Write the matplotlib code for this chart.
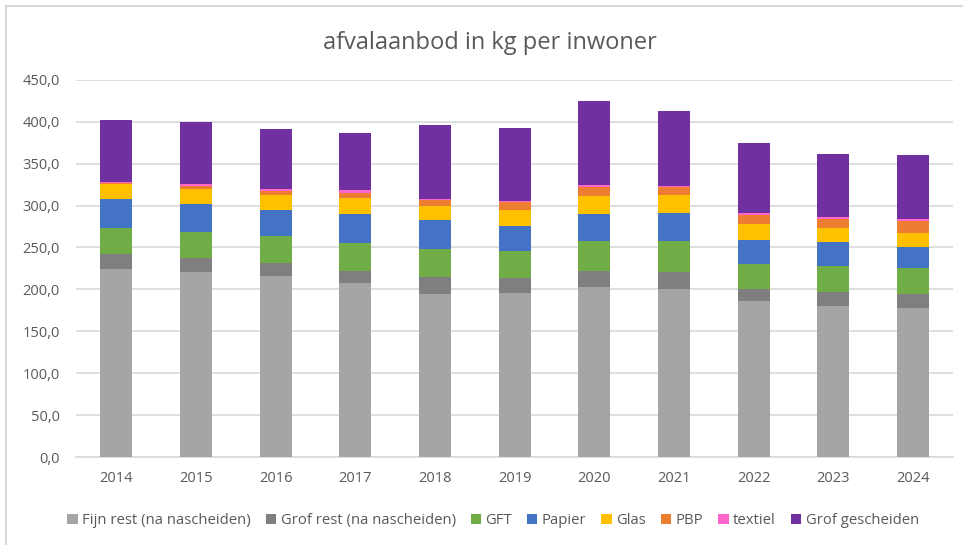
import numpy as np
import matplotlib
matplotlib.use("Agg")
import matplotlib.pyplot as plt
from matplotlib.patches import Rectangle

# Data (kg per inwoner)
years = ['2014', '2015', '2016', '2017', '2018', '2019', '2020', '2021', '2022', '2023', '2024']
fijn_rest = [224.0, 220.8, 216.1, 208.1, 195.0, 196.2, 203.0, 200.2, 186.0, 180.0, 178.0]
grof_rest = [18.3, 16.7, 15.4, 13.6, 20.2, 17.5, 18.7, 20.3, 14.2, 17.0, 17.0]
gft = [31.3, 31.3, 32.2, 34.0, 33.4, 31.8, 35.7, 36.9, 30.5, 31.3, 30.2]
papier = [33.8, 33.0, 31.3, 34.5, 33.8, 30.5, 32.8, 33.2, 28.2, 28.2, 25.8]
glas = [18.2, 18.2, 17.5, 19.1, 17.0, 19.0, 21.1, 22.3, 19.1, 16.7, 16.6]
pbp = [1.0, 3.0, 5.0, 5.9, 6.8, 9.2, 10.7, 8.7, 11.0, 10.7, 13.6]
textiel = [1.5, 2.2, 2.0, 3.3, 1.9, 1.2, 2.0, 2.0, 2.4, 2.1, 2.4]
grof_gescheiden = [73.8, 74.2, 71.8, 67.5, 88.1, 87.2, 100.0, 88.5, 83.0, 75.0, 76.2]

series = [
    ('Fijn rest (na nascheiden)', fijn_rest, '#a5a5a5'),
    ('Grof rest (na nascheiden)', grof_rest, '#7f7f7f'),
    ('GFT', gft, '#70ad47'),
    ('Papier', papier, '#4472c4'),
    ('Glas', glas, '#ffc000'),
    ('PBP', pbp, '#ed7d31'),
    ('textiel', textiel, '#ff66cc'),
    ('Grof gescheiden', grof_gescheiden, '#7030a0'),
]

plt.rcParams['font.family'] = ['Open Sans', 'DejaVu Sans']
text_color = '#595959'

fig = plt.figure(figsize=(9.63, 5.45), dpi=100)
ax = fig.add_axes([0.0794, 0.1606, 0.910, 0.6935])

# chart frame (like the Excel chart area border)
fig.patches.append(Rectangle((6 / 963, -0.1), 2.0, 1.1 - 6 / 545, transform=fig.transFigure,
                             fill=False, edgecolor='#d9d9d9', linewidth=1.5))

x = np.arange(len(years))
bottom = np.zeros(len(years))
for label, vals, color in series:
    ax.bar(x, vals, width=0.40, bottom=bottom, color=color, label=label, zorder=3)
    bottom += np.array(vals)

ax.set_xlim(-0.5, len(years) - 0.5)
ax.set_ylim(0, 450)
ax.set_yticks(np.arange(0, 451, 50))
ax.set_yticklabels([f"{v:.1f}".replace('.', ',') for v in np.arange(0, 451, 50)])
ax.set_xticks(x)
ax.set_xticklabels(years)

ax.grid(axis='y', color='#d9d9d9', linewidth=1.2, zorder=0)
for s in ['top', 'right', 'left']:
    ax.spines[s].set_visible(False)
ax.spines['bottom'].set_color('#d9d9d9')
ax.spines['bottom'].set_linewidth(1.2)
ax.tick_params(axis='both', length=0, colors=text_color, labelsize=10.5)
ax.tick_params(axis='x', pad=10)
ax.tick_params(axis='y', pad=12)

fig.text(0.509, 0.921, 'afvalaanbod in kg per inwoner', ha='center', va='center',
         fontsize=17, color=text_color)

leg = fig.legend(loc='center', bbox_to_anchor=(0.512, 0.045), ncol=8, frameon=False,
                 fontsize=10.7, handlelength=0.7, handleheight=0.7, handletextpad=0.3,
                 columnspacing=1.0, labelcolor=text_color)

fig.savefig('out.png', dpi=100)
